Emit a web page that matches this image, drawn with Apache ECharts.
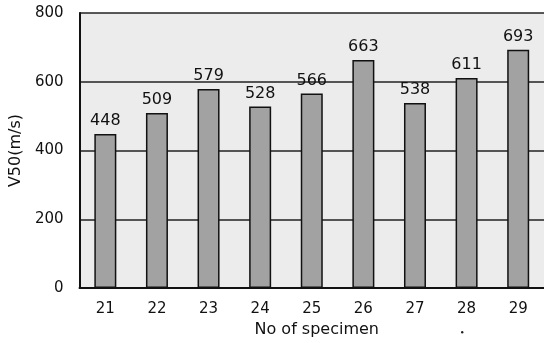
<!DOCTYPE html>
<html><head><meta charset="utf-8">
<script src="https://cdn.jsdelivr.net/npm/echarts@6/dist/echarts.min.js"></script>
<style>html,body{margin:0;padding:0;background:#fff}#c{width:544px;height:343px}</style>
</head><body><div id="c"></div>
<script>
var categories = ['21','22','23','24','25','26','27','28','29'];
var v50 = [448, 509, 579, 528, 566, 663, 538, 611, 693];
var yTicks = [0, 200, 400, 600, 800];

var FONT = 'DejaVu Sans';
var chart = echarts.init(document.getElementById('c'), null, {renderer: 'canvas'});
chart.setOption({
  animation: false,
  backgroundColor: '#ffffff',
  grid: {left: 79, right: -3, top: 13, height: 276, show: true, backgroundColor: '#ececec', borderWidth: 0},
  xAxis: {
    type: 'category', data: categories,
    name: 'No of specimen', nameLocation: 'middle', nameGap: 29,
    nameTextStyle: {fontFamily: FONT, fontSize: 16, color: '#111', padding: [0, 0, 0, 10]},
    axisLine: {lineStyle: {color: '#111', width: 2}},
    axisTick: {show: false},
    axisLabel: {fontFamily: FONT, fontSize: 15, color: '#111', margin: 14}
  },
  yAxis: {
    type: 'value', min: yTicks[0], max: yTicks[yTicks.length - 1], interval: 200,
    name: 'V50(m/s)', nameLocation: 'middle', nameGap: 52,
    nameTextStyle: {fontFamily: FONT, fontSize: 16, color: '#111'},
    axisLine: {show: true, lineStyle: {color: '#111', width: 2}},
    axisTick: {show: false},
    axisLabel: {fontFamily: FONT, fontSize: 15, color: '#111', margin: 16},
    splitLine: {show: true, lineStyle: {color: '#222', width: 1.5}}
  },
  graphic: [{type: 'circle', left: 461, top: 331, shape: {r: 1.2}, style: {fill: '#222'}}],
  series: [{
    type: 'bar', data: v50, barWidth: 22,
    itemStyle: {color: '#a2a2a2', borderColor: '#111', borderWidth: 1.5},
    label: {show: true, position: 'top', distance: 5, fontFamily: FONT, fontSize: 16, color: '#111'}
  }]
});
</script></body></html>
